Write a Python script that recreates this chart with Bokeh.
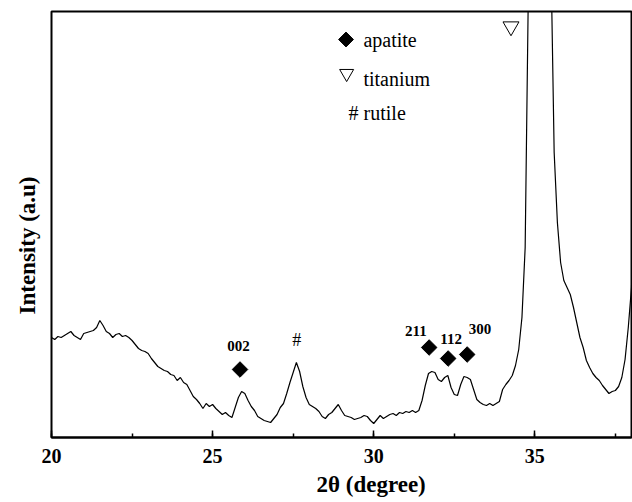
import math
from bokeh.plotting import figure
from bokeh.models import Range1d, SingleIntervalTicker, Title
from bokeh.core.properties import value
from bokeh.embed import file_html
from bokeh.resources import INLINE

# ---- data (2-theta in degrees, intensity in arbitrary units) ----
two_theta = [
    20.0, 20.1, 20.2, 20.3, 20.4, 20.5, 20.6, 20.7, 20.8, 20.9,
    21.0, 21.1, 21.2, 21.3, 21.4, 21.5, 21.6, 21.7, 21.8, 21.9,
    22.0, 22.1, 22.2, 22.3, 22.4, 22.5, 22.6, 22.7, 22.8, 22.9,
    23.0, 23.1, 23.2, 23.3, 23.4, 23.5, 23.6, 23.7, 23.8, 23.9,
    24.0, 24.1, 24.2, 24.3, 24.4, 24.5, 24.6, 24.7, 24.8, 24.9,
    25.0, 25.1, 25.2, 25.3, 25.4, 25.5, 25.6, 25.7, 25.8, 25.9,
    26.0, 26.1, 26.2, 26.3, 26.4, 26.5, 26.6, 26.7, 26.8, 26.9,
    27.0, 27.1, 27.2, 27.3, 27.4, 27.5, 27.6, 27.7, 27.8, 27.9,
    28.0, 28.1, 28.2, 28.3, 28.4, 28.5, 28.6, 28.7, 28.8, 28.9,
    29.0, 29.1, 29.2, 29.3, 29.4, 29.5, 29.6, 29.7, 29.8, 29.9,
    30.0, 30.1, 30.2, 30.3, 30.4, 30.5, 30.6, 30.7, 30.8, 30.9,
    31.0, 31.1, 31.2, 31.3, 31.4, 31.5, 31.6, 31.7, 31.8, 31.9,
    32.0, 32.1, 32.2, 32.3, 32.4, 32.5, 32.6, 32.7, 32.8, 32.9,
    33.0, 33.1, 33.2, 33.3, 33.4, 33.5, 33.6, 33.7, 33.8, 33.9,
    34.0, 34.1, 34.2, 34.3, 34.4, 34.5, 34.6, 34.7, 34.8, 34.9,
    35.0, 35.1, 35.2, 35.3, 35.4, 35.5, 35.6, 35.7, 35.8, 35.9,
    36.0, 36.1, 36.2, 36.3, 36.4, 36.5, 36.6, 36.7, 36.8, 36.9,
    37.0, 37.1, 37.2, 37.3, 37.4, 37.5, 37.6, 37.7, 37.8, 37.9,
    38.0, 38.1, 38.2,
]
intensity = [
    100, 98, 101, 100, 102, 104, 106, 102, 100, 98,
    104, 105, 106, 107, 110, 117, 112, 106, 104, 100,
    103, 104, 101, 102, 100, 97, 93, 89, 87, 86,
    84, 79, 75, 71, 69, 67, 66, 63, 62, 57,
    60, 55, 53, 47, 41, 38, 34, 29, 34, 31,
    33, 29, 26, 23, 25, 22, 20, 30, 40, 46,
    44, 37, 31, 27, 21, 19, 17, 16, 15, 19,
    23, 30, 34, 44, 55, 65, 75, 66, 51, 40,
    33, 31, 29, 26, 21, 19, 23, 25, 29, 33,
    27, 22, 21, 20, 18, 19, 20, 22, 21, 17,
    14, 18, 22, 19, 21, 23, 24, 22, 25, 24,
    26, 25, 27, 25, 27, 37, 52, 64, 66, 65,
    58, 56, 60, 62, 50, 43, 42, 53, 61, 60,
    58, 48, 38, 35, 33, 32, 34, 32, 34, 36,
    48, 53, 57, 62, 72, 88, 120, 190, 450, 700,
    1100, 1300, 1250, 1000, 700, 480, 285, 215, 175, 157,
    150, 143, 130, 115, 100, 90, 77, 70, 64, 60,
    57, 52, 48, 44, 46, 47, 51, 60, 78, 110,
    150, 280, 500,
]

apatite_hkl = ["002", "211", "112", "300"]
apatite_x = [25.85, 31.72, 32.31, 32.90]
apatite_y = [68, 90, 79, 83]
apatite_label_x = [25.80, 31.31, 32.40, 33.30]
apatite_label_y = [92, 107, 99, 109]

rutile_x = [27.61]
rutile_y = [98]

titanium_x = [34.26]
titanium_y = [411]

legend_names = ["apatite", "titanium", "# rutile"]

SERIF = "'Liberation Serif', 'Times New Roman', serif"

p = figure(width=632, height=502, x_range=Range1d(20, 38), y_range=Range1d(0, 426),
           output_backend="svg", toolbar_location=None,
           min_border_left=50, min_border_right=1, min_border_top=11, min_border_bottom=65)
p.background_fill_color = "white"
p.border_fill_color = "white"
p.grid.visible = False
p.yaxis.visible = False
p.outline_line_color = "black"
p.outline_line_width = 2

xa = p.xaxis[0]
xa.ticker = SingleIntervalTicker(interval=5, num_minor_ticks=2)
xa.major_tick_in = 7
xa.major_tick_out = 0
xa.minor_tick_in = 4
xa.minor_tick_out = 0
xa.major_tick_line_width = 1.5
xa.minor_tick_line_width = 1.5
xa.axis_line_width = 2
xa.major_label_standoff = 11
xa.major_label_text_font = SERIF
xa.major_label_text_font_style = "bold"
xa.major_label_text_font_size = "20px"
xa.major_label_text_color = "black"

# XRD pattern
p.line(two_theta, intensity, line_color="black", line_width=1.2)

# apatite peak markers (filled diamonds)
p.scatter(apatite_x, apatite_y, marker="square", size=11, angle=math.pi / 4,
          fill_color="black", line_color="black")
p.text(apatite_label_x, apatite_label_y, text=apatite_hkl,
       text_font=value(SERIF), text_font_style="bold", text_font_size="15px",
       text_align="center", text_baseline="middle", text_color="black")

# rutile
p.text(rutile_x, rutile_y, text=["#"], text_font=value(SERIF), text_font_size="18px",
       text_align="center", text_baseline="middle", text_color="black")

# titanium
p.scatter(titanium_x, titanium_y, marker="inverted_triangle", size=16,
          fill_color=None, line_color="black", line_width=1)

# legend (drawn as marks + text in data space)
p.scatter([29.14], [398], marker="square", size=10.5, angle=math.pi / 4,
          fill_color="black", line_color="black")
p.scatter([29.16], [364], marker="inverted_triangle", size=14,
          fill_color=None, line_color="black", line_width=1)
p.text([29.68, 29.68, 29.22], [398, 359, 325], text=legend_names,
       text_font=value(SERIF), text_font_size="20px",
       text_align="left", text_baseline="alphabetic", text_color="black")

# axis titles (side titles, shifted off-centre like the reference)
p.add_layout(Title(text="2θ (degree)", align="left", offset=265, standoff=8,
                   text_font=SERIF, text_font_style="bold", text_font_size="23px",
                   text_color="black"), "below")
p.add_layout(Title(text="Intensity (a.u)", align="left", offset=123, standoff=24,
                   text_line_height=1.0,
                   text_font=SERIF, text_font_style="bold", text_font_size="23px",
                   text_color="black"), "left")

open("out.html", "w").write(file_html(p, INLINE))
